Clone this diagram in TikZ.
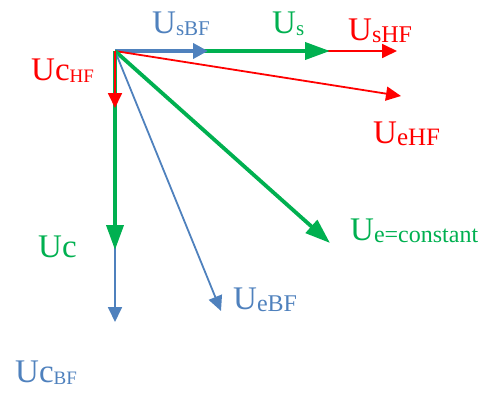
\documentclass[tikz,border=0pt]{standalone}
\usepackage{fontspec}
\setmainfont{Liberation Serif}
\usetikzlibrary{arrows.meta}
\definecolor{cblue}{HTML}{4F81BD}
\definecolor{cgreen}{HTML}{00B050}
\definecolor{cred}{HTML}{FF0000}
\newcommand{\mainsz}{\fontsize{33}{33}\selectfont}
\newcommand{\subtxt}[2]{\raisebox{-2pt}{\fontsize{#1}{#1}\selectfont #2}}
\begin{document}
\begin{tikzpicture}[x=1pt,y=1pt,
  thinblue/.style={draw=cblue,line width=1.8pt,-{Triangle[length=15pt,width=14pt]}},
  thinred/.style={draw=cred,line width=1.8pt,-{Triangle[length=15pt,width=14pt]}},
  thickgreen/.style={draw=cgreen,line width=3.8pt,-{Triangle[length=25pt,width=17pt]}},
  thickblue/.style={draw=cblue,line width=3.8pt,-{Triangle[length=15pt,width=15pt]}},
  lbl/.style={inner sep=0pt,anchor=base west,font=\mainsz}]
\useasboundingbox (0,0) rectangle (496,392);
\coordinate (O) at (115,341);
\coordinate (tUsBF) at (208,341);
\coordinate (tUs) at (330,341);
\coordinate (tUsHF) at (397,341);
\coordinate (tUeHF) at (401,296);
\coordinate (tUe) at (330,149);
\coordinate (tUeBF) at (221,81);
\coordinate (tUcHF) at (115,284);
\coordinate (tUc) at (115,142);
\coordinate (tUcBF) at (115,70);
% horizontal
\draw[thinred] (O) -- (tUsHF);
\draw[thickgreen] (O) -- (tUs);
\draw[thickblue] (O) -- (tUsBF);
% diagonals
\draw[thinred] (O) -- (tUeHF);
\draw[thickgreen] (O) -- (tUe);
\draw[thinblue] (O) -- (tUeBF);
% vertical
\draw[thinblue] (O) -- (tUcBF);
\draw[thickgreen] (O) -- (tUc);
\draw[thinred] (O) -- (tUcHF);
% labels
\node[lbl,text=cblue] (lUsBF) at (152,359) {U\subtxt{21}{sBF}};
\node[lbl,text=cgreen] (lUs) at (272,359) {U\subtxt{21}{s}};
\node[lbl,text=cred] (lUsHF) at (348,352) {U\subtxt{24}{sHF}};
\node[lbl,text=cred] (lUcHF) at (31,312) {Uc\subtxt{19}{HF}};
\node[lbl,text=cred] (lUeHF) at (373,249) {U\subtxt{25}{eHF}};
\node[lbl,text=cgreen] (lUe) at (350,152) {U\subtxt{24}{e=constant}};
\node[lbl,text=cgreen] (lUc) at (38,135) {Uc};
\node[lbl,text=cblue] (lUeBF) at (233,83) {U\subtxt{24}{eBF}};
\node[lbl,text=cblue] (lUcBF) at (15,10) {Uc\subtxt{19}{BF}};
\end{tikzpicture}
\end{document}
